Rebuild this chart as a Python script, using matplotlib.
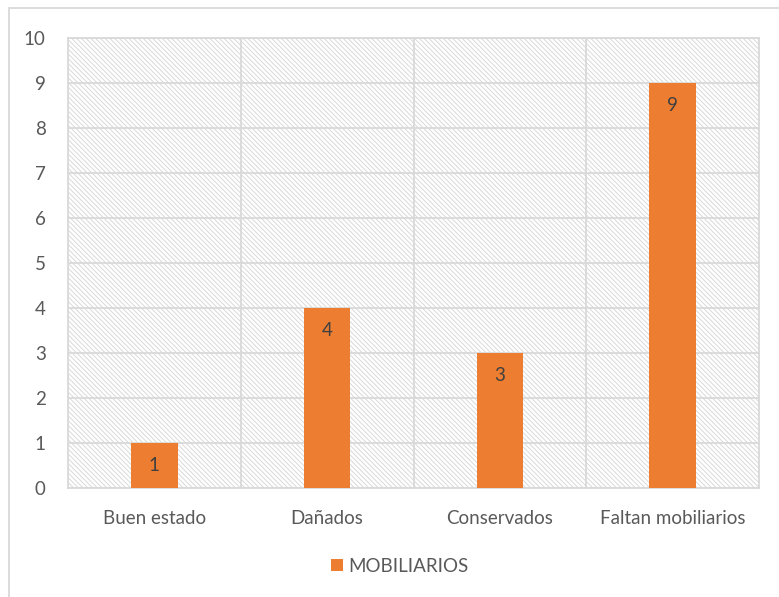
import matplotlib.pyplot as plt
from matplotlib.patches import Rectangle

# ── data ──────────────────────────────────────────────────────────────────────
categories = ["Buen estado", "Dañados", "Conservados", "Faltan mobiliarios"]
values = [1, 4, 3, 9]
series_name = "MOBILIARIOS"
y_ticks = list(range(0, 11))

BAR_COLOR = "#ED7D31"
GRID_COLOR = "#D9D9D9"
TEXT_COLOR = "#595959"

plt.rcParams["font.family"] = ["Lato", "DejaVu Sans"]
plt.rcParams["hatch.linewidth"] = 0.7
plt.rcParams["hatch.color"] = GRID_COLOR

W, H = 779, 597
fig = plt.figure(figsize=(W / 100, H / 100), dpi=100)

# outer chart border
fig.patches.append(Rectangle((9 / W, -0.05), 1.2, 1 - 8 / H + 0.05,
                             transform=fig.transFigure, facecolor="none",
                             edgecolor=GRID_COLOR, lw=1.3))

ax = fig.add_axes([68 / W, 1 - 488 / H, (759 - 68) / W, (488 - 38) / H])

# hatched plot area
ax.add_patch(Rectangle((0, 0), 1, 1, transform=ax.transAxes, facecolor="white",
                       edgecolor=GRID_COLOR, hatch="\\" * 7, lw=0, zorder=0))

x = list(range(len(categories)))
bars = ax.bar(x, values, width=0.27, color=BAR_COLOR, zorder=3, label=series_name)

for xi, v in zip(x, values):
    ax.annotate(str(v), (xi, v), xytext=(0, -16), textcoords="offset points",
                ha="center", va="center", fontsize=13.5, color="#404040", zorder=4)

ax.set_xlim(-0.5, len(categories) - 0.5)
ax.set_ylim(0, 10)
ax.set_yticks(y_ticks)
ax.set_xticks(x)
ax.set_xticklabels(categories)

# grid lines
for y in y_ticks:
    ax.axhline(y, color=GRID_COLOR, lw=1.3, zorder=1)
for b in [0.5, 1.5, 2.5]:
    ax.axvline(b, color=GRID_COLOR, lw=1.3, zorder=1)

for s in ax.spines.values():
    s.set_color(GRID_COLOR)
    s.set_linewidth(1.3)
    s.set_zorder(2)

ax.tick_params(axis="both", length=0, labelsize=13.5, labelcolor=TEXT_COLOR)
ax.tick_params(axis="x", pad=16)
ax.tick_params(axis="y", pad=16)

fig.legend(handles=[bars], labels=[series_name], loc="center",
           bbox_to_anchor=(400 / W, 1 - 566 / H), frameon=False,
           handlelength=0.6, handleheight=0.6, handletextpad=0.3,
           fontsize=13.5, labelcolor=TEXT_COLOR)

fig.savefig("out.png", dpi=100)
